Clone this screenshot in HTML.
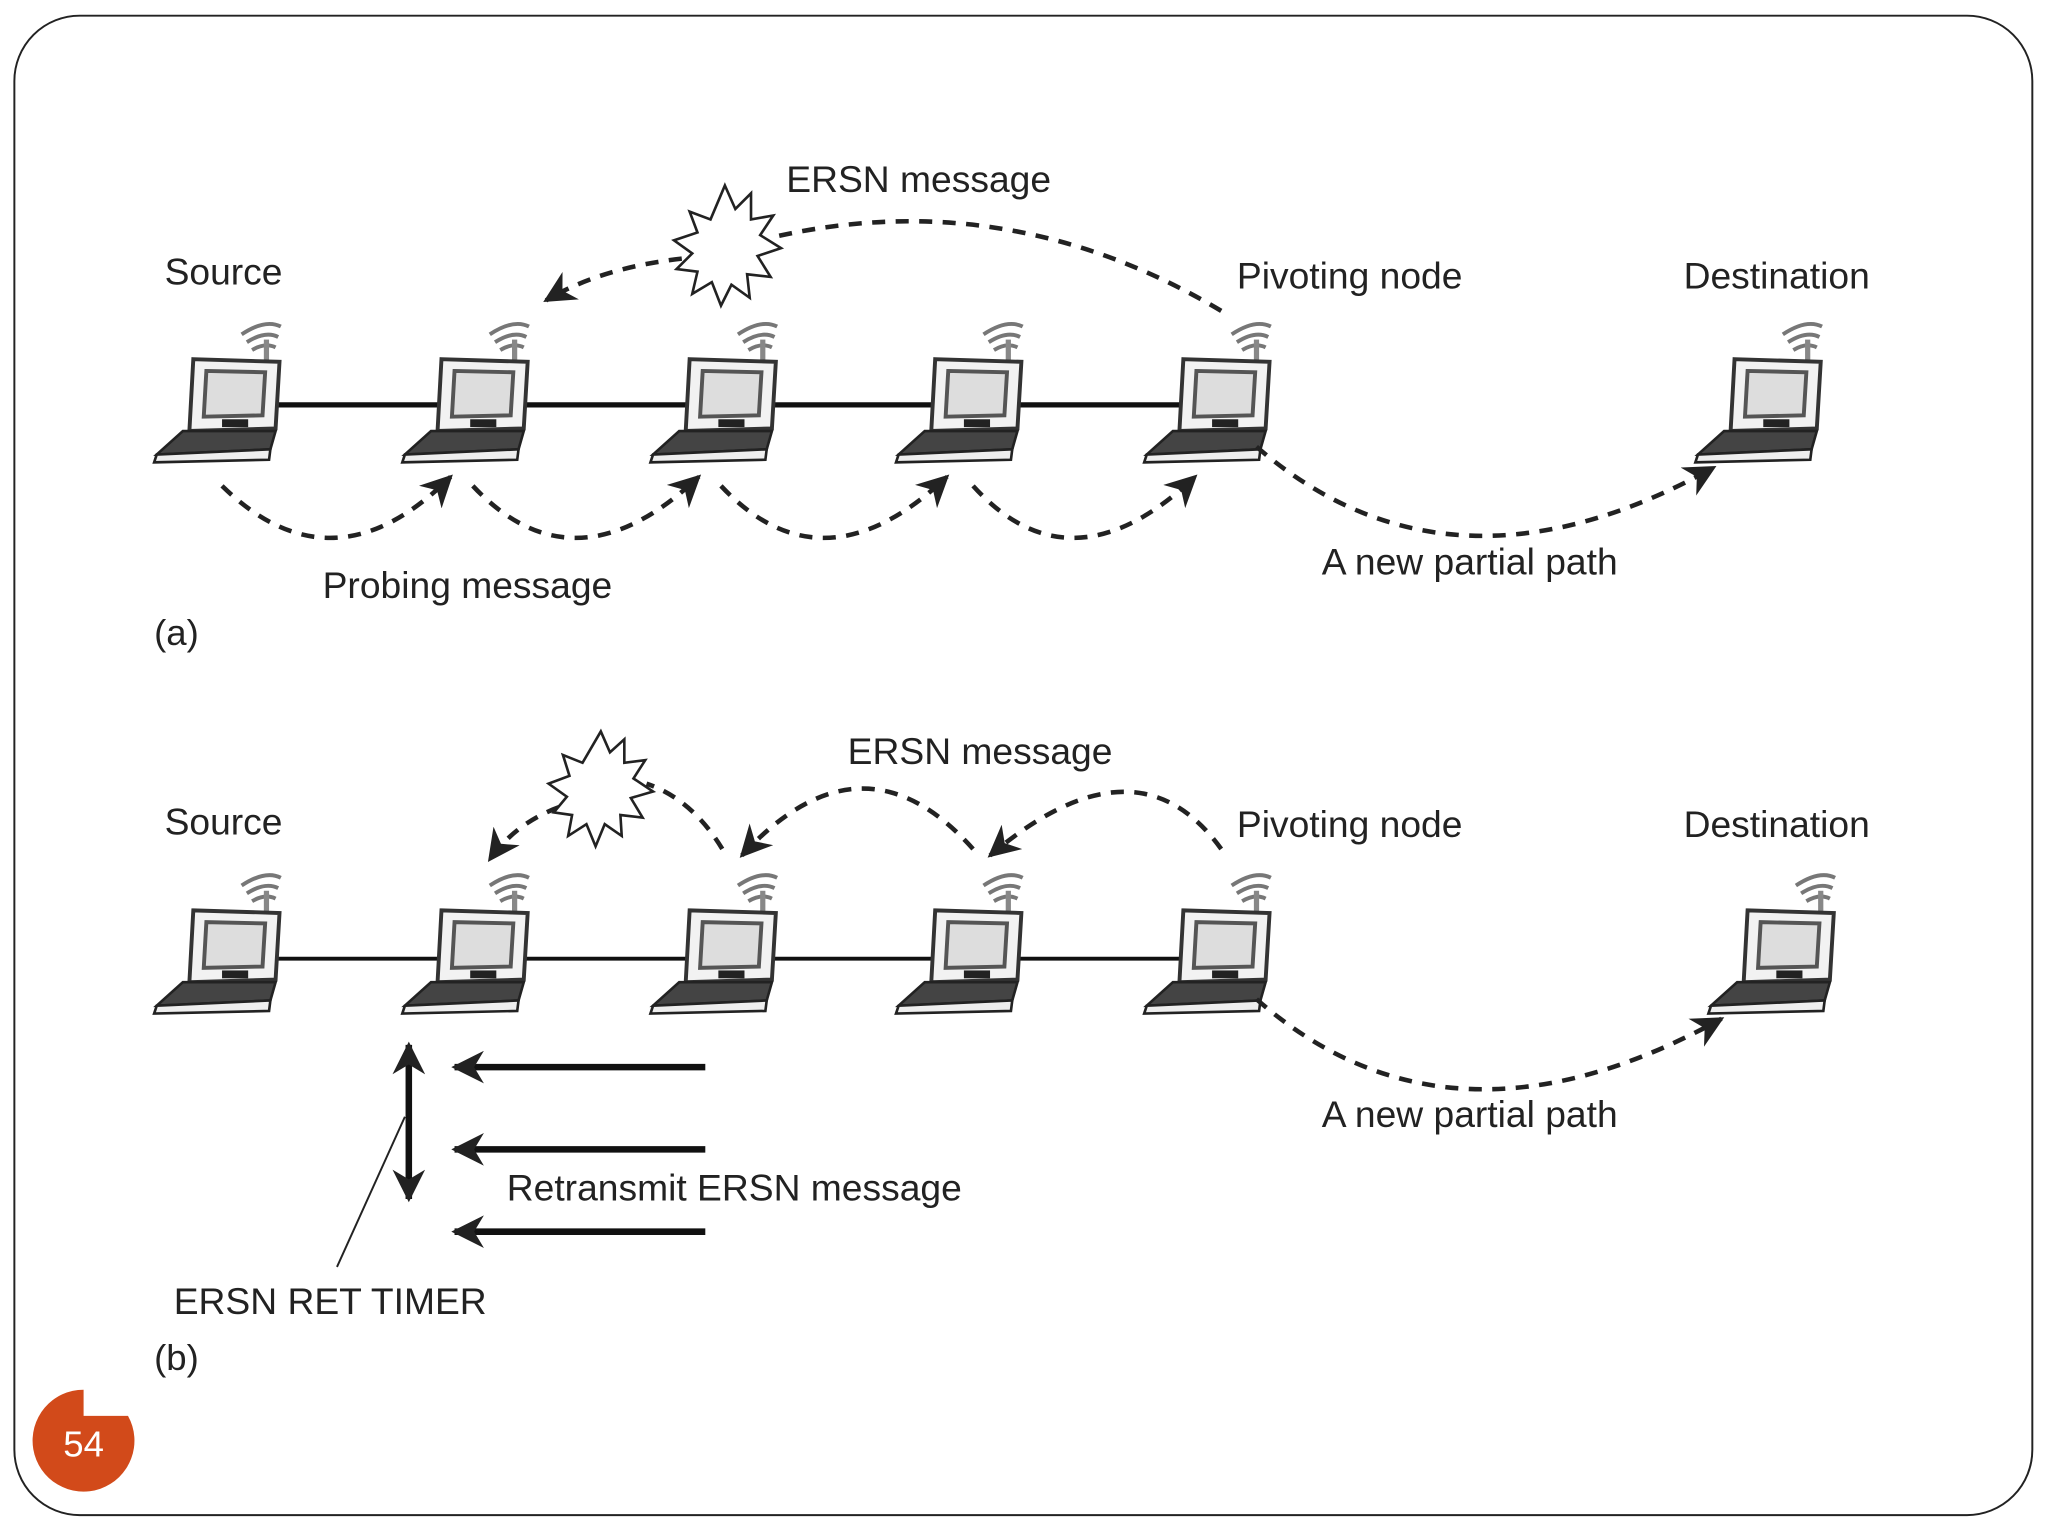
<!DOCTYPE html>
<html><head><meta charset="utf-8"><style>
html,body{margin:0;padding:0;background:#fff;}
svg{display:block;}
text{font-family:"Liberation Sans",sans-serif;fill:#222;}
</style></head><body>
<svg width="2048" height="1536" viewBox="0 0 1568 1176" xmlns="http://www.w3.org/2000/svg">
<defs>
<g id="lap">
  <path d="M5,-44 q18,-12 30,-6 M9,-38 q14,-9 24,-4 M13,-32 q10,-6 18,-2" fill="none" stroke="#777" stroke-width="3"/>
  <line x1="24" y1="-40" x2="24" y2="-24" stroke="#888" stroke-width="4"/>
  <polygon points="-32,-25 34,-23 31,28 -35,30" fill="#f2f2f2" stroke="#333" stroke-width="3"/>
  <polygon points="-22,-16 23,-15 21,18 -24,19" fill="#ddd" stroke="#555" stroke-width="3"/>
  <rect x="-10" y="21" width="20" height="6" fill="#222"/>
  <polygon points="-40,30 31,30 27,44 -60,48" fill="#444" stroke="#222" stroke-width="2"/>
  <polygon points="-60,48 27,44 26,52 -62,54" fill="#eee" stroke="#222" stroke-width="2"/>
</g>
<marker id="ah" viewBox="0 0 10 10" refX="9" refY="5" markerWidth="7" markerHeight="7" orient="auto-start-reverse">
  <path d="M0,0 L10,5 L0,10 L3,5 z" fill="#222"/>
</marker>
<marker id="ah2" viewBox="0 0 10 10" refX="9" refY="5" markerWidth="5" markerHeight="5" orient="auto-start-reverse">
  <path d="M0,0 L10,5 L0,10 L3,5 z" fill="#222"/>
</marker>
</defs>
<rect x="11" y="12" width="1545" height="1148" rx="50" fill="#fff" stroke="#222" stroke-width="1.5"/>

<!-- (a) -->
<line x1="205" y1="310" x2="905" y2="310" stroke="#111" stroke-width="4"/>
<use href="#lap" x="180" y="300"/><use href="#lap" x="370" y="300"/><use href="#lap" x="560" y="300"/>
<use href="#lap" x="748" y="300"/><use href="#lap" x="938" y="300"/><use href="#lap" x="1360" y="300"/>
<g fill="none" stroke="#222" stroke-width="3.5" stroke-dasharray="10,8">
<path d="M170,372 Q255,455 345,365" marker-end="url(#ah)"/>
<path d="M362,372 Q440,455 535,365" marker-end="url(#ah)"/>
<path d="M552,372 Q630,455 725,365" marker-end="url(#ah)"/>
<path d="M745,372 Q820,455 915,365" marker-end="url(#ah)"/>
<path d="M962,342 Q1110,470 1312,358" marker-end="url(#ah)"/>
<path d="M935,238 Q770,140 590,182"/>
<path d="M522,198 Q460,205 418,230" marker-end="url(#ah)"/>
</g>
<polygon points="555,142 563,160 575,148 575,168 592,165 582,180 598,190 580,196 590,212 572,210 574,228 560,218 552,234 545,216 530,225 534,208 518,206 530,194 516,184 534,178 528,162 544,168" fill="#fff" stroke="#222" stroke-width="2"/>
<text x="602" y="147" font-size="28.5">ERSN message</text>
<text x="126" y="218" font-size="28.5">Source</text>
<text x="947" y="221" font-size="28.5">Pivoting node</text>
<text x="1289" y="221" font-size="28.5">Destination</text>
<text x="247" y="458" font-size="28.5">Probing message</text>
<text x="1012" y="440" font-size="28.5">A new partial path</text>
<text x="118" y="494" font-size="28">(a)</text>

<!-- (b) -->
<line x1="205" y1="734" x2="905" y2="734" stroke="#111" stroke-width="3"/>
<use href="#lap" x="180" y="722"/><use href="#lap" x="370" y="722"/><use href="#lap" x="560" y="722"/>
<use href="#lap" x="748" y="722"/><use href="#lap" x="938" y="722"/><use href="#lap" x="1370" y="722"/>
<g fill="none" stroke="#222" stroke-width="3.5" stroke-dasharray="10,8">
<path d="M935,650 Q870,560 758,655" marker-end="url(#ah)"/>
<path d="M745,650 Q660,555 568,655" marker-end="url(#ah)"/>
<path d="M553,650 Q530,612 495,600"/>
<path d="M428,618 Q395,630 375,658" marker-end="url(#ah)"/>
<path d="M962,765 Q1110,895 1318,780" marker-end="url(#ah)"/>
</g>
<polygon points="460,560 467,576 478,566 478,584 494,582 485,596 500,606 483,611 492,626 475,624 476,640 463,631 456,648 449,631 435,640 438,624 424,622 434,610 420,600 436,594 431,578 446,584" fill="#fff" stroke="#222" stroke-width="2"/>
<g stroke="#111" stroke-width="5" marker-end="url(#ah2)">
<line x1="540" y1="817" x2="348" y2="817"/>
<line x1="540" y1="880" x2="348" y2="880"/>
<line x1="540" y1="943" x2="348" y2="943"/>
</g>
<line x1="313" y1="800" x2="313" y2="918" stroke="#111" stroke-width="5" marker-start="url(#ah2)" marker-end="url(#ah2)"/>
<line x1="258" y1="970" x2="310" y2="855" stroke="#222" stroke-width="1.5"/>
<text x="649" y="585" font-size="28.5">ERSN message</text>
<text x="126" y="639" font-size="28.5">Source</text>
<text x="947" y="641" font-size="28.5">Pivoting node</text>
<text x="1289" y="641" font-size="28.5">Destination</text>
<text x="1012" y="863" font-size="28.5">A new partial path</text>
<text x="388" y="919" font-size="28.5">Retransmit ERSN message</text>
<text x="133" y="1006" font-size="28.5">ERSN RET TIMER</text>
<text x="118" y="1049" font-size="28">(b)</text>

<path d="M64,1064 A39,39 0 1 0 98,1084 L64,1084 Z" fill="#d24a1a"/>
<text x="64" y="1115" font-size="28" text-anchor="middle" style="fill:#fff">54</text>
</svg>
</body></html>
